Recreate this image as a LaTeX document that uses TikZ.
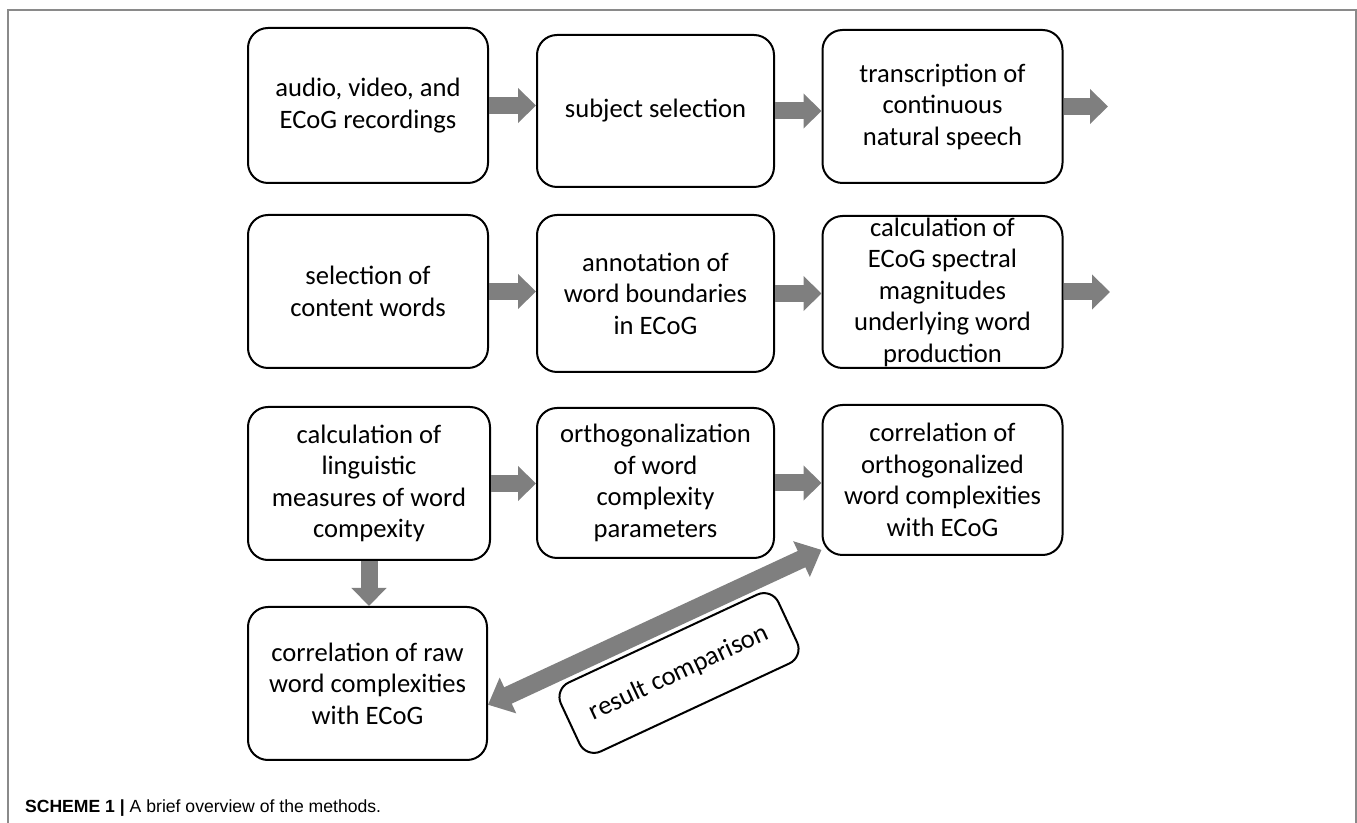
\documentclass[tikz,border=0pt]{standalone}
\usepackage{fontspec}
\setmainfont{Carlito}
\newfontfamily\capfont{Liberation Sans}
\usetikzlibrary{arrows.meta,positioning}
\definecolor{arrowgray}{HTML}{7F7F7F}
\definecolor{framegray}{HTML}{8A8A8A}

\begin{document}
\begin{tikzpicture}[x=0.5pt,y=-0.5pt,font=\fontsize{13.3}{15.75}\selectfont,
stage/.style={draw,line width=1pt,rounded corners=10pt,align=center,inner sep=0pt,minimum width=120pt,minimum height=76.5pt},
flow/.style={arrowgray,line width=8.5pt,-{Triangle[length=9pt,width=17pt]}},
twoway/.style={arrowgray,line width=9pt,{Triangle[length=11pt,width=19pt]}-{Triangle[length=11pt,width=19pt]}}]
\useasboundingbox (0,0) rectangle (1357,823);
\draw[framegray,line width=1pt] (8,823)--(8,10)--(1356,10)--(1356,823);
\node[stage,minimum height=77.5pt] (rec) at (368,105.5) {audio, video, and\\ECoG recordings};
\node[stage,minimum width=118.5pt,minimum height=76pt] (subj) at (655.5,111) {subject selection};
\node[stage] (trans) at (942.5,106.5) {transcription of\\continuous\\natural speech};
\node[stage] (sel) at (368,291.5) {selection of\\content words};
\node[stage,minimum width=118.5pt,minimum height=78.5pt] (annot) at (655.5,293.5) {annotation of\\word boundaries\\in ECoG};
\node[stage,minimum height=76pt] (spec) at (942.5,292) {calculation of\\ECoG spectral\\magnitudes\\underlying word\\production};
\node[stage,minimum width=121pt] (ling) at (369,483.5) {calculation of\\linguistic\\measures of word\\compexity};
\node[stage,minimum width=118.5pt,minimum height=75pt] (orth) at (655.5,483) {orthogonalization\\of word\\complexity\\parameters};
\node[stage,minimum height=75pt] (corrortho) at (942.5,480) {correlation of\\orthogonalized\\word complexities\\with ECoG};
\node[stage,minimum width=119.5pt] (corrraw) at (367.5,683.5) {correlation of raw\\word complexities\\with ECoG};
\node[stage,rounded corners=8pt,rotate=25,minimum width=120pt,minimum height=38pt] (cmp) at (679,673) {result comparison};
\coordinate (transout) at (1108,106.5);
\coordinate (specout) at (1110,292);
\foreach \from/\to in {rec/subj,subj/trans,sel/annot,annot/spec,ling/orth,orth/corrortho}
\draw[flow] (\from.east) -- (\from.east -| \to.west);
\draw[flow] (trans.east) -- (transout);
\draw[flow] (spec.east) -- (specout);
\draw[flow] (ling.south) -- (ling.south |- corrraw.north);
\draw[twoway] (corrraw.-10) -- (corrortho.210);
\node[anchor=base west,font=\capfont\fontsize{8.8}{10}\selectfont] (caption) at (18,813) {\textbf{SCHEME 1 |} A brief overview of the methods.};
\end{tikzpicture}
\end{document}
